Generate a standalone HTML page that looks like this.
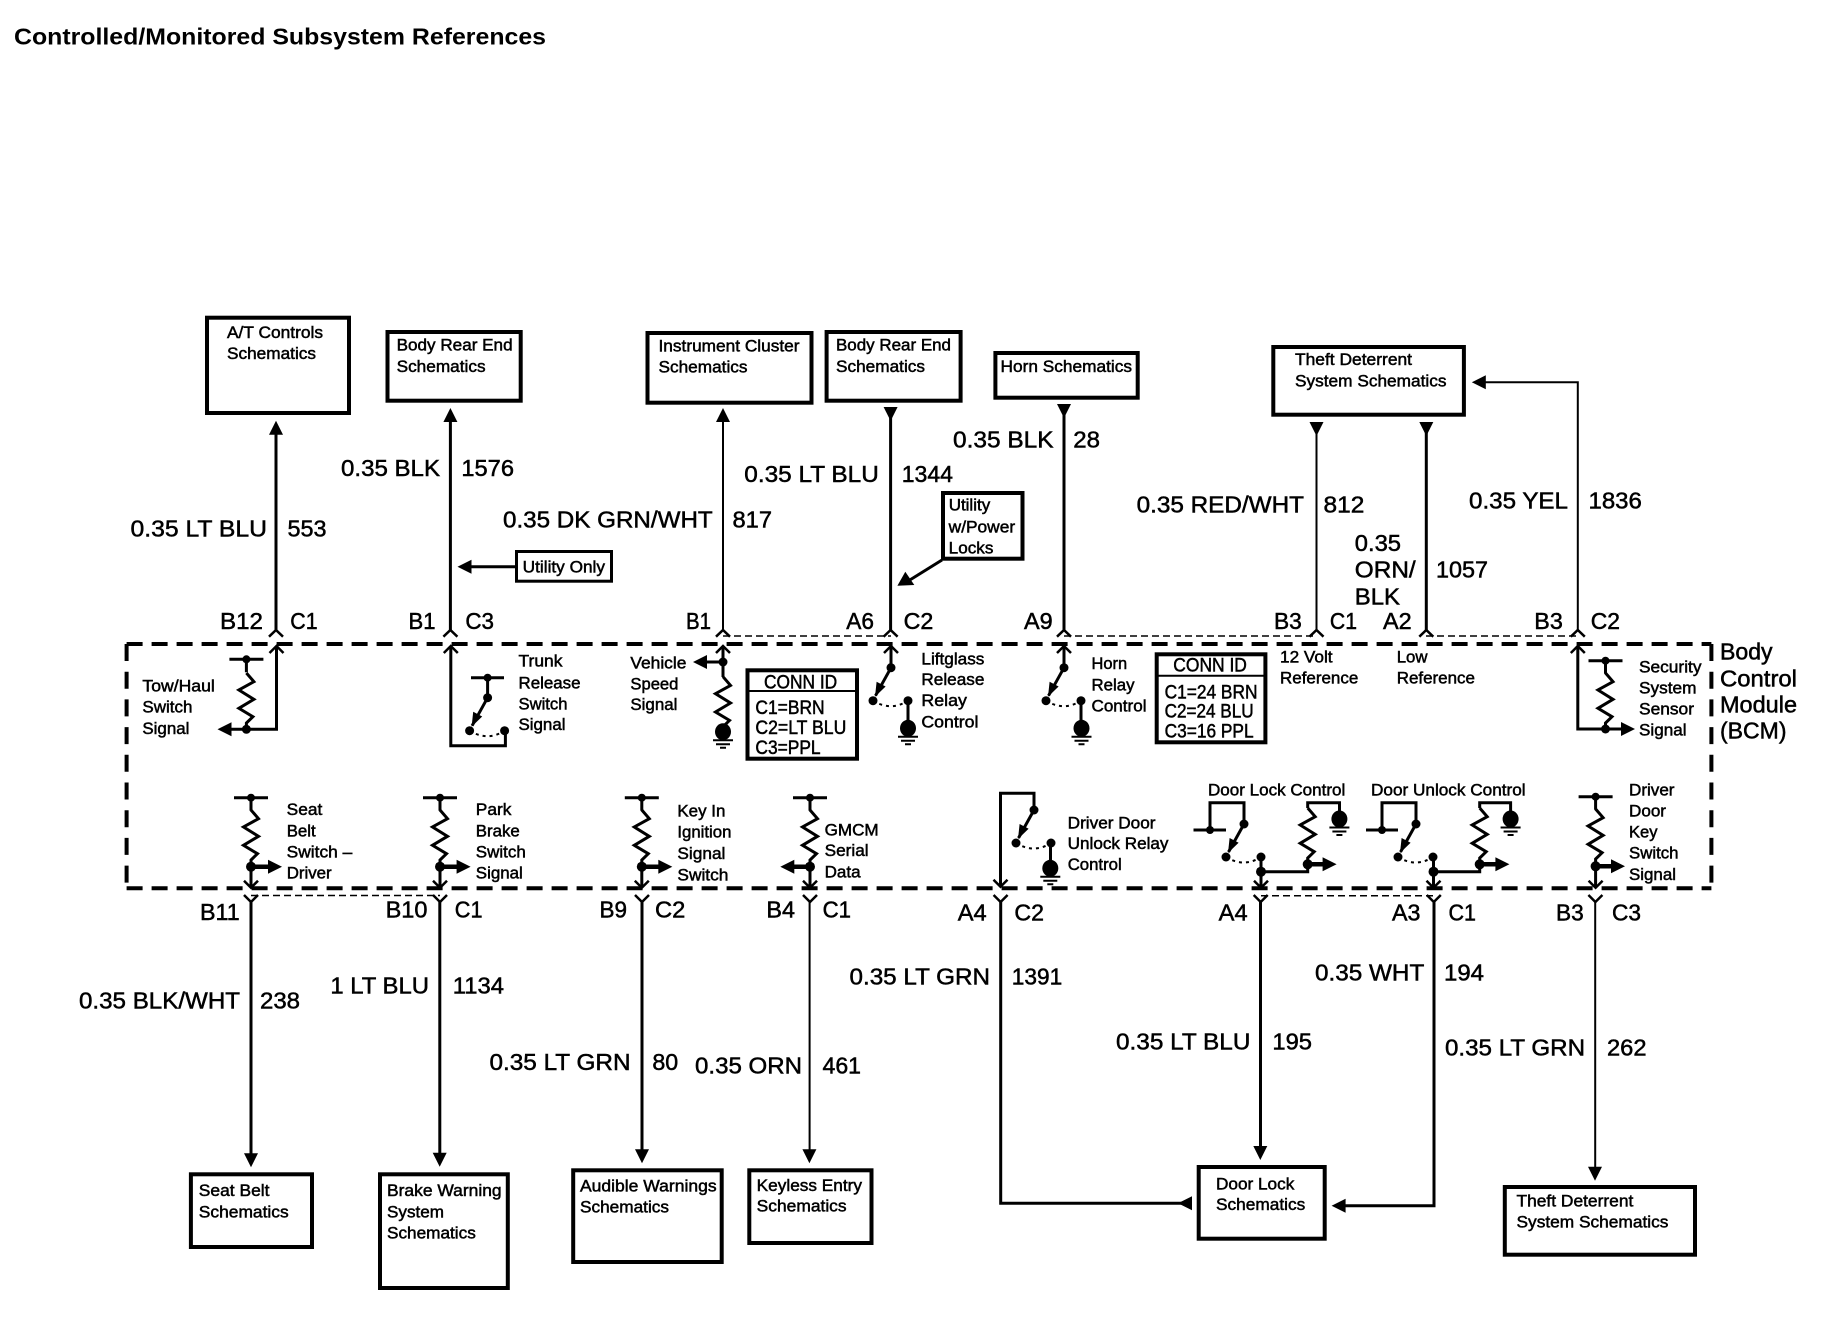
<!DOCTYPE html>
<html><head><meta charset="utf-8"><style>
html,body{margin:0;padding:0;background:#fff}
svg{display:block}
text{font-family:"Liberation Sans",sans-serif;fill:#000;stroke:#000;stroke-width:.5}
.s{font-size:17px}.m{font-size:19px}.l{font-size:23px}
.t{font-size:23px;font-weight:bold;stroke-width:0}
.b{fill:none;stroke:#000;stroke-width:4}
.w{fill:none;stroke:#000;stroke-width:3}
.n{fill:none;stroke:#000;stroke-width:2}
</style></head><body>
<svg width="1834" height="1328" viewBox="0 0 1834 1328" xmlns="http://www.w3.org/2000/svg">
<defs>
<polygon id="aU" points="0,0 7,14 -7,14"/>
<polygon id="aD" points="0,0 7,-14 -7,-14"/>
<polygon id="aL" points="0,0 14,-7 14,7"/>
<polygon id="aR" points="0,0 -14,-7 -14,7"/>
<path id="oU" d="M-7,7L0,0L7,7M0,0V8" fill="none" stroke="#000" stroke-width="2.5"/>
<path id="oD" d="M-7,-7L0,0L7,-7M0,0V-8" fill="none" stroke="#000" stroke-width="2.5"/>
<path id="fT" d="M-7,6.7L0,0L7,6.7" fill="none" stroke="#000" stroke-width="2.5"/>
<path id="fB" d="M-7,-7L0,0L7,-7" fill="none" stroke="#000" stroke-width="2.5"/>
<path id="r" d="M0,0L7.5,8.7L-7.5,17L7.5,26.3L-7.5,35.3L6.5,43.7L0,50V57" fill="none" stroke="#000" stroke-width="3"/>
<g id="bar"><path d="M-17,0H17M0,0V13" fill="none" stroke="#000" stroke-width="3"/><circle r="4"/></g>
<g id="gnd"><ellipse rx="8" ry="8.5"/><path d="M-10,8.5H10M-7,12.5H7M-3,16H3" fill="none" stroke="#000" stroke-width="2"/></g>
<g id="sw"><circle r="4.5"/><circle cx="-18" cy="33" r="4.5"/><circle cx="17" cy="33" r="4.5"/>
<path d="M0,0L-15.5,28" fill="none" stroke="#000" stroke-width="3"/><polygon points="-16,29 -5.4,18.8 -14.4,14"/>
<path d="M-18,33Q0,44 17,33" fill="none" stroke="#000" stroke-width="2" stroke-dasharray="3,4"/></g>
</defs>

<text class="t" x="14" y="44.3" textLength="532" lengthAdjust="spacingAndGlyphs">Controlled/Monitored Subsystem References</text>

<!-- module box -->
<path d="M126.6,644H1711.4" class="b" stroke-dasharray="16,9"/>
<path d="M126.6,888.3H1711.4" class="b" stroke-dasharray="16,9"/>
<path d="M126.6,644V888.3" class="b" stroke-dasharray="17,10.7"/>
<path d="M1711.4,644V888.3" class="b" stroke-dasharray="17,10.7"/>
<!-- thin dashes -->
<g fill="none" stroke="#000" stroke-width="1.5" stroke-dasharray="7,4">
<path d="M723,636H891M1064,636H1316M1426,636H1578"/>
<path d="M251,895.5H440M1261,895.7H1433"/>
</g>

<!-- top boxes -->
<rect class="b" x="207" y="317.7" width="142" height="95.3" stroke-width="4"/>
<text class="s" x="227" y="338" textLength="96" lengthAdjust="spacingAndGlyphs">A/T Controls</text>
<text class="s" x="227" y="359" textLength="89" lengthAdjust="spacingAndGlyphs">Schematics</text>
<rect class="b" x="387.5" y="332" width="133.2" height="68.7"/>
<text class="s" x="396.6" y="350.7" textLength="116" lengthAdjust="spacingAndGlyphs">Body Rear End</text>
<text class="s" x="396.6" y="372" textLength="89" lengthAdjust="spacingAndGlyphs">Schematics</text>
<rect class="b" x="647.5" y="333" width="164" height="69.7"/>
<text class="s" x="658.5" y="351.7" textLength="141" lengthAdjust="spacingAndGlyphs">Instrument Cluster</text>
<text class="s" x="658.5" y="372.7" textLength="89" lengthAdjust="spacingAndGlyphs">Schematics</text>
<rect class="b" x="826.6" y="332" width="134" height="68.7"/>
<text class="s" x="836" y="350.7" textLength="115" lengthAdjust="spacingAndGlyphs">Body Rear End</text>
<text class="s" x="836" y="372" textLength="89" lengthAdjust="spacingAndGlyphs">Schematics</text>
<rect class="b" x="995.4" y="353" width="142.3" height="44.7"/>
<text class="s" x="1000.5" y="372" textLength="131.5" lengthAdjust="spacingAndGlyphs">Horn Schematics</text>
<rect class="b" x="1273.3" y="347" width="190.6" height="67.7"/>
<text class="s" x="1295" y="365" textLength="117" lengthAdjust="spacingAndGlyphs">Theft Deterrent</text>
<text class="s" x="1295" y="386.7" textLength="151.5" lengthAdjust="spacingAndGlyphs">System Schematics</text>

<!-- top wires -->
<path class="w" d="M276,433V630"/><use href="#aU" x="276" y="420.7"/><use href="#fT" x="276" y="630"/>
<path class="w" d="M450.4,421V630"/><use href="#aU" x="450.4" y="408"/><use href="#fT" x="450.4" y="630"/>
<path class="n" d="M723,421V630"/><use href="#aU" x="723" y="408"/><use href="#fT" x="723" y="630"/>
<path class="w" d="M890.6,417V630" stroke-width="2.5"/><use href="#aD" x="890.6" y="421"/><use href="#fT" x="890.6" y="630"/>
<path class="w" d="M1064,415V630" stroke-width="2.5"/><use href="#aD" x="1064" y="418"/><use href="#fT" x="1064" y="630"/>
<path class="n" d="M1316.5,432V630"/><use href="#aD" x="1316.5" y="436"/><use href="#fT" x="1316.5" y="630"/>
<path class="w" d="M1426.3,432V630" stroke-width="2.5"/><use href="#aD" x="1426.3" y="436"/><use href="#fT" x="1426.3" y="630"/>
<path class="n" d="M1577.8,630V382.3H1484"/><use href="#aL" x="1471.8" y="382.3"/><use href="#fT" x="1577.8" y="630"/>

<text class="l" x="130.5" y="536.7" textLength="136.5" lengthAdjust="spacingAndGlyphs">0.35 LT BLU</text>
<text class="l" x="287.5" y="536.7" textLength="39" lengthAdjust="spacingAndGlyphs">553</text>
<text class="l" x="341" y="476" textLength="99" lengthAdjust="spacingAndGlyphs">0.35 BLK</text>
<text class="l" x="461.4" y="476" textLength="52.6" lengthAdjust="spacingAndGlyphs">1576</text>
<text class="l" x="503" y="527.7" textLength="209.7" lengthAdjust="spacingAndGlyphs">0.35 DK GRN/WHT</text>
<text class="l" x="732.5" y="527.7" textLength="39.5" lengthAdjust="spacingAndGlyphs">817</text>
<text class="l" x="744.3" y="482" textLength="134.5" lengthAdjust="spacingAndGlyphs">0.35 LT BLU</text>
<text class="l" x="901.7" y="482" textLength="51.3" lengthAdjust="spacingAndGlyphs">1344</text>
<text class="l" x="953" y="447.3" textLength="100.5" lengthAdjust="spacingAndGlyphs">0.35 BLK</text>
<text class="l" x="1073.3" y="447.3" textLength="26.7" lengthAdjust="spacingAndGlyphs">28</text>
<text class="l" x="1136.6" y="512.3" textLength="167.4" lengthAdjust="spacingAndGlyphs">0.35 RED/WHT</text>
<text class="l" x="1323.5" y="512.3" textLength="40.8" lengthAdjust="spacingAndGlyphs">812</text>
<text class="l" x="1354.8" y="551" textLength="46.2" lengthAdjust="spacingAndGlyphs">0.35</text>
<text class="l" x="1354.8" y="577.7" textLength="60.9" lengthAdjust="spacingAndGlyphs">ORN/</text>
<text class="l" x="1354.8" y="604.3" textLength="45.2" lengthAdjust="spacingAndGlyphs">BLK</text>
<text class="l" x="1436" y="577.7" textLength="52" lengthAdjust="spacingAndGlyphs">1057</text>
<text class="l" x="1469" y="508.3" textLength="99" lengthAdjust="spacingAndGlyphs">0.35 YEL</text>
<text class="l" x="1588.5" y="508.3" textLength="53.3" lengthAdjust="spacingAndGlyphs">1836</text>

<!-- utility callouts -->
<rect class="w" x="516.5" y="551.5" width="95" height="29.7"/>
<text class="s" x="522.7" y="572.7" textLength="82.3" lengthAdjust="spacingAndGlyphs">Utility Only</text>
<path class="w" d="M516,566.7H470"/><use href="#aL" x="457.5" y="566.7"/>
<rect class="b" x="943" y="493" width="79.5" height="65.7"/>
<text class="s" x="948.7" y="510.7" textLength="41.5" lengthAdjust="spacingAndGlyphs">Utility</text>
<text class="s" x="948.7" y="532.3" textLength="66.4" lengthAdjust="spacingAndGlyphs">w/Power</text>
<text class="s" x="948.7" y="553.3" textLength="44.7" lengthAdjust="spacingAndGlyphs">Locks</text>
<path class="w" d="M942,560L905,583"/><polygon points="897.4,585.7 914.3,585 905.3,571.7"/>

<!-- connector pin labels top -->
<text class="l" x="220" y="629" textLength="43" lengthAdjust="spacingAndGlyphs">B12</text>
<text class="l" x="290.3" y="629" textLength="27.3" lengthAdjust="spacingAndGlyphs">C1</text>
<text class="l" x="408.5" y="629" textLength="27" lengthAdjust="spacingAndGlyphs">B1</text>
<text class="l" x="465.4" y="629" textLength="28.6" lengthAdjust="spacingAndGlyphs">C3</text>
<text class="l" x="686" y="629" textLength="25" lengthAdjust="spacingAndGlyphs">B1</text>
<text class="l" x="846.3" y="629" textLength="27.7" lengthAdjust="spacingAndGlyphs">A6</text>
<text class="l" x="903.6" y="629" textLength="29.7" lengthAdjust="spacingAndGlyphs">C2</text>
<text class="l" x="1024" y="629" textLength="28.7" lengthAdjust="spacingAndGlyphs">A9</text>
<text class="l" x="1274" y="629" textLength="27.8" lengthAdjust="spacingAndGlyphs">B3</text>
<text class="l" x="1329.9" y="629" textLength="27.1" lengthAdjust="spacingAndGlyphs">C1</text>
<text class="l" x="1383" y="629" textLength="28.7" lengthAdjust="spacingAndGlyphs">A2</text>
<text class="l" x="1534.3" y="629" textLength="28.5" lengthAdjust="spacingAndGlyphs">B3</text>
<text class="l" x="1590.8" y="629" textLength="29.2" lengthAdjust="spacingAndGlyphs">C2</text>

<!-- Tow/Haul -->
<path class="w" d="M276.5,646V729.3H231"/><use href="#oU" x="276.5" y="646"/><use href="#aL" x="217.5" y="729.3"/>
<use href="#bar" x="246.4" y="659.3"/><use href="#r" x="246.4" y="673"/><circle cx="246.4" cy="729.3" r="4.5"/>
<text class="s" x="142.4" y="691.7" textLength="72.4" lengthAdjust="spacingAndGlyphs">Tow/Haul</text>
<text class="s" x="142.4" y="712.7" textLength="50" lengthAdjust="spacingAndGlyphs">Switch</text>
<text class="s" x="142.4" y="734" textLength="47" lengthAdjust="spacingAndGlyphs">Signal</text>

<!-- Trunk -->
<path class="w" d="M450.8,646V745.7H505.4V731"/><use href="#oU" x="450.8" y="646"/>
<path class="w" d="M471,677.7H504"/><path class="w" d="M487.6,677.7V697.7" stroke-width="3.5"/><circle cx="487.6" cy="677.7" r="4"/>
<use href="#sw" x="487.6" y="697.7"/>
<text class="s" x="518.5" y="666.7" textLength="44" lengthAdjust="spacingAndGlyphs">Trunk</text>
<text class="s" x="518.5" y="688.3" textLength="62" lengthAdjust="spacingAndGlyphs">Release</text>
<text class="s" x="518.5" y="709.3" textLength="49" lengthAdjust="spacingAndGlyphs">Switch</text>
<text class="s" x="518.5" y="730" textLength="47" lengthAdjust="spacingAndGlyphs">Signal</text>

<!-- Vehicle speed -->
<path class="w" d="M723,646V677" stroke-width="2.5"/><use href="#oU" x="723" y="646"/>
<circle cx="723" cy="662" r="4.5"/><path class="w" d="M723,662H705" stroke-width="4"/><use href="#aL" x="693" y="662"/>
<use href="#r" x="723" y="676.7"/><use href="#gnd" x="723" y="731.7"/>
<text class="s" x="630.4" y="668.3" textLength="56" lengthAdjust="spacingAndGlyphs">Vehicle</text>
<text class="s" x="630.4" y="689.3" textLength="48" lengthAdjust="spacingAndGlyphs">Speed</text>
<text class="s" x="630.4" y="710" textLength="47" lengthAdjust="spacingAndGlyphs">Signal</text>

<!-- CONN ID 1 -->
<rect class="b" x="747.5" y="670.3" width="109.5" height="88.4"/><path class="n" d="M747,691H857"/>
<text class="m" x="764" y="688.3" textLength="73.2" lengthAdjust="spacingAndGlyphs">CONN ID</text>
<text class="m" x="755.4" y="714" textLength="69.2" lengthAdjust="spacingAndGlyphs">C1=BRN</text>
<text class="m" x="755.4" y="734" textLength="90.9" lengthAdjust="spacingAndGlyphs">C2=LT BLU</text>
<text class="m" x="755.4" y="754" textLength="65.2" lengthAdjust="spacingAndGlyphs">C3=PPL</text>

<!-- Liftglass -->
<path class="w" d="M891,646V667.7M908,700V728"/><use href="#oU" x="891" y="646"/>
<use href="#sw" x="891" y="667.7"/><use href="#gnd" x="908" y="728.3"/>
<text class="s" x="921.4" y="664.3" textLength="63" lengthAdjust="spacingAndGlyphs">Liftglass</text>
<text class="s" x="921.4" y="685" textLength="63" lengthAdjust="spacingAndGlyphs">Release</text>
<text class="s" x="921.4" y="706" textLength="45.5" lengthAdjust="spacingAndGlyphs">Relay</text>
<text class="s" x="921.4" y="727.3" textLength="57" lengthAdjust="spacingAndGlyphs">Control</text>

<!-- Horn -->
<path class="w" d="M1064,646V667.7M1081,700V728"/><use href="#oU" x="1064" y="646"/>
<use href="#sw" x="1064" y="667.7"/><use href="#gnd" x="1081.5" y="728.3"/>
<text class="s" x="1091.5" y="669" textLength="35.6" lengthAdjust="spacingAndGlyphs">Horn</text>
<text class="s" x="1091.5" y="690.7" textLength="43" lengthAdjust="spacingAndGlyphs">Relay</text>
<text class="s" x="1091.5" y="711.7" textLength="55" lengthAdjust="spacingAndGlyphs">Control</text>

<!-- CONN ID 2 -->
<rect class="b" x="1156.7" y="654.3" width="108.7" height="88"/><path class="n" d="M1156,675.7H1266"/>
<text class="m" x="1173.3" y="671.7" textLength="73.6" lengthAdjust="spacingAndGlyphs">CONN ID</text>
<text class="m" x="1164.6" y="698.3" textLength="92.9" lengthAdjust="spacingAndGlyphs">C1=24 BRN</text>
<text class="m" x="1164.6" y="717.7" textLength="89" lengthAdjust="spacingAndGlyphs">C2=24 BLU</text>
<text class="m" x="1164.6" y="737.3" textLength="89" lengthAdjust="spacingAndGlyphs">C3=16 PPL</text>

<text class="s" x="1280" y="662.3" textLength="52.6" lengthAdjust="spacingAndGlyphs">12 Volt</text>
<text class="s" x="1280" y="683.3" textLength="78.3" lengthAdjust="spacingAndGlyphs">Reference</text>
<text class="s" x="1396.7" y="662.7" textLength="30.8" lengthAdjust="spacingAndGlyphs">Low</text>
<text class="s" x="1396.7" y="683.7" textLength="78.3" lengthAdjust="spacingAndGlyphs">Reference</text>

<!-- Security -->
<path class="w" d="M1577.8,646V729H1623"/><use href="#oU" x="1577.8" y="646"/><use href="#aR" x="1635" y="729"/>
<use href="#bar" x="1605.5" y="660.7"/><use href="#r" x="1605.5" y="673"/><circle cx="1605.5" cy="729" r="4.5"/>
<text class="s" x="1639" y="672.7" textLength="62.5" lengthAdjust="spacingAndGlyphs">Security</text>
<text class="s" x="1639" y="693.3" textLength="57.5" lengthAdjust="spacingAndGlyphs">System</text>
<text class="s" x="1639" y="714.7" textLength="55" lengthAdjust="spacingAndGlyphs">Sensor</text>
<text class="s" x="1639" y="735.7" textLength="47.5" lengthAdjust="spacingAndGlyphs">Signal</text>

<text class="l" x="1720" y="659.3" textLength="52.6" lengthAdjust="spacingAndGlyphs">Body</text>
<text class="l" x="1720" y="686.7" textLength="77" lengthAdjust="spacingAndGlyphs">Control</text>
<text class="l" x="1720" y="712.7" textLength="77" lengthAdjust="spacingAndGlyphs">Module</text>
<text class="l" x="1720" y="738.3" textLength="66.5" lengthAdjust="spacingAndGlyphs">(BCM)</text>

<!-- lower row resistors -->
<use href="#bar" x="251" y="797.7"/><use href="#r" x="251" y="810"/><circle cx="251" cy="866.7" r="5"/>
<path class="w" d="M251,866.7V887" stroke-width="2.5"/><path d="M251,866.7H270" stroke="#000" stroke-width="4.5"/><use href="#oD" x="251" y="887.7"/><use href="#aR" x="282" y="866.7"/>
<text class="s" x="286.7" y="815" textLength="35.6" lengthAdjust="spacingAndGlyphs">Seat</text>
<text class="s" x="286.7" y="836.7" textLength="29" lengthAdjust="spacingAndGlyphs">Belt</text>
<text class="s" x="286.7" y="857.7" textLength="65.6" lengthAdjust="spacingAndGlyphs">Switch –</text>
<text class="s" x="286.7" y="878.3" textLength="45" lengthAdjust="spacingAndGlyphs">Driver</text>

<use href="#bar" x="440" y="797.7"/><use href="#r" x="440" y="810"/><circle cx="440" cy="866.7" r="5"/>
<path class="w" d="M440,866.7V887" stroke-width="2.5"/><path d="M440,866.7H459" stroke="#000" stroke-width="4.5"/><use href="#oD" x="440" y="887.7"/><use href="#aR" x="470.6" y="866.7"/>
<text class="s" x="475.8" y="815" textLength="35.6" lengthAdjust="spacingAndGlyphs">Park</text>
<text class="s" x="475.8" y="836.7" textLength="44" lengthAdjust="spacingAndGlyphs">Brake</text>
<text class="s" x="475.8" y="857.7" textLength="50" lengthAdjust="spacingAndGlyphs">Switch</text>
<text class="s" x="475.8" y="878.3" textLength="47" lengthAdjust="spacingAndGlyphs">Signal</text>

<use href="#bar" x="641.8" y="797.7"/><use href="#r" x="641.8" y="810"/><circle cx="641.8" cy="866.7" r="5"/>
<path class="w" d="M641.8,866.7V887" stroke-width="2.5"/><path d="M641.8,866.7H660" stroke="#000" stroke-width="4.5"/><use href="#oD" x="641.8" y="887.7"/><use href="#aR" x="672.3" y="866.7"/>
<text class="s" x="677.4" y="816.7" textLength="48" lengthAdjust="spacingAndGlyphs">Key In</text>
<text class="s" x="677.4" y="837.7" textLength="54" lengthAdjust="spacingAndGlyphs">Ignition</text>
<text class="s" x="677.4" y="859" textLength="48" lengthAdjust="spacingAndGlyphs">Signal</text>
<text class="s" x="677.4" y="880.7" textLength="51" lengthAdjust="spacingAndGlyphs">Switch</text>

<use href="#bar" x="810" y="797.7"/><use href="#r" x="810" y="810"/><circle cx="810" cy="866.7" r="5"/>
<path class="w" d="M810,866.7V887" stroke-width="2.5"/><path d="M810,866.7H792" stroke="#000" stroke-width="4.5"/><use href="#oD" x="810" y="887.7"/><use href="#aL" x="780.3" y="866.7"/>
<text class="s" x="824.6" y="835.3" textLength="54" lengthAdjust="spacingAndGlyphs">GMCM</text>
<text class="s" x="824.6" y="856" textLength="44" lengthAdjust="spacingAndGlyphs">Serial</text>
<text class="s" x="824.6" y="877.7" textLength="36" lengthAdjust="spacingAndGlyphs">Data</text>

<!-- Driver door unlock -->
<path class="w" d="M1034,810V793.3H1000.5V886"/><use href="#oD" x="1000.5" y="886.7"/>
<use href="#sw" x="1034" y="810"/><path class="w" d="M1050.5,843V868"/><use href="#gnd" x="1050.3" y="868.3"/>
<text class="s" x="1067.7" y="828.3" textLength="87.8" lengthAdjust="spacingAndGlyphs">Driver Door</text>
<text class="s" x="1067.7" y="849" textLength="100.8" lengthAdjust="spacingAndGlyphs">Unlock Relay</text>
<text class="s" x="1067.7" y="870" textLength="54" lengthAdjust="spacingAndGlyphs">Control</text>

<!-- Door lock control -->
<text class="s" x="1208" y="795.7" textLength="137.3" lengthAdjust="spacingAndGlyphs">Door Lock Control</text>
<path class="w" d="M1193.5,830H1226"/><circle cx="1210" cy="830" r="4"/>
<path class="w" d="M1210,830V802.7H1244V824" stroke-width="3.5"/><use href="#sw" x="1244" y="824"/>
<path class="w" d="M1261,857V887M1261,871.7H1307.7V864"/><circle cx="1261" cy="871.7" r="5"/><use href="#oD" x="1261" y="887.7"/>
<path d="M1307.7,864.3H1325" stroke="#000" stroke-width="4.5"/><use href="#aR" x="1336.6" y="864.3"/><circle cx="1307.7" cy="864.3" r="5"/>
<use href="#r" x="1307.7" y="808"/><path class="w" d="M1307.7,808V802.7H1339.5V812"/><use href="#gnd" x="1339.4" y="819"/>

<!-- Door unlock control -->
<text class="s" x="1371" y="795.7" textLength="154.6" lengthAdjust="spacingAndGlyphs">Door Unlock Control</text>
<path class="w" d="M1366,830H1398"/><circle cx="1382" cy="830" r="4"/>
<path class="w" d="M1382,830V802.7H1416V824" stroke-width="3.5"/><use href="#sw" x="1416" y="824"/>
<path class="w" d="M1433.5,857V887M1433.5,871.7H1479.7V864"/><circle cx="1433.5" cy="871.7" r="5"/><use href="#oD" x="1433.5" y="887.7"/>
<path d="M1479.7,864.3H1497" stroke="#000" stroke-width="4.5"/><use href="#aR" x="1509.4" y="864.3"/><circle cx="1479.7" cy="864.3" r="5"/>
<use href="#r" x="1479.7" y="808"/><path class="w" d="M1479.7,808V802.7H1510.6V812"/><use href="#gnd" x="1510.6" y="819"/>

<!-- Driver door key -->
<use href="#bar" x="1595.6" y="796.7"/><use href="#r" x="1595.6" y="809"/><circle cx="1595.6" cy="866.3" r="5"/>
<path class="w" d="M1595.6,866.3V887" stroke-width="2.5"/><path d="M1595.6,866.3H1613" stroke="#000" stroke-width="4.5"/><use href="#oD" x="1595.6" y="887.7"/><use href="#aR" x="1625" y="866.3"/>
<text class="s" x="1629" y="795.7" textLength="45.5" lengthAdjust="spacingAndGlyphs">Driver</text>
<text class="s" x="1629" y="816.7" textLength="37" lengthAdjust="spacingAndGlyphs">Door</text>
<text class="s" x="1629" y="837.3" textLength="28.5" lengthAdjust="spacingAndGlyphs">Key</text>
<text class="s" x="1629" y="858.7" textLength="49.5" lengthAdjust="spacingAndGlyphs">Switch</text>
<text class="s" x="1629" y="880" textLength="47" lengthAdjust="spacingAndGlyphs">Signal</text>

<!-- lower connector labels -->
<text class="l" x="200" y="920" textLength="39.7" lengthAdjust="spacingAndGlyphs">B11</text>
<text class="l" x="385.6" y="917.7" textLength="41.9" lengthAdjust="spacingAndGlyphs">B10</text>
<text class="l" x="454.8" y="917.7" textLength="27.7" lengthAdjust="spacingAndGlyphs">C1</text>
<text class="l" x="599.5" y="917.7" textLength="27.5" lengthAdjust="spacingAndGlyphs">B9</text>
<text class="l" x="655" y="917.7" textLength="30.3" lengthAdjust="spacingAndGlyphs">C2</text>
<text class="l" x="766.4" y="917.7" textLength="28.6" lengthAdjust="spacingAndGlyphs">B4</text>
<text class="l" x="822.6" y="917.7" textLength="28.4" lengthAdjust="spacingAndGlyphs">C1</text>
<text class="l" x="957.8" y="920.7" textLength="28.9" lengthAdjust="spacingAndGlyphs">A4</text>
<text class="l" x="1014.4" y="920.7" textLength="29.6" lengthAdjust="spacingAndGlyphs">C2</text>
<text class="l" x="1218.7" y="920.7" textLength="28.9" lengthAdjust="spacingAndGlyphs">A4</text>
<text class="l" x="1392" y="920.7" textLength="28.4" lengthAdjust="spacingAndGlyphs">A3</text>
<text class="l" x="1448.5" y="920.7" textLength="27.5" lengthAdjust="spacingAndGlyphs">C1</text>
<text class="l" x="1556" y="920.7" textLength="27.7" lengthAdjust="spacingAndGlyphs">B3</text>
<text class="l" x="1612" y="920.7" textLength="29" lengthAdjust="spacingAndGlyphs">C3</text>

<!-- lower wires -->
<use href="#fB" x="251" y="902"/><path class="w" d="M251,902V1155"/><use href="#aD" x="251" y="1167.3"/>
<use href="#fB" x="440" y="902"/><path class="w" d="M439.8,902V1155" stroke-width="2.5"/><use href="#aD" x="439.7" y="1166.7"/>
<use href="#fB" x="642" y="902"/><path class="w" d="M642,902V1151"/><use href="#aD" x="642" y="1163.3"/>
<use href="#fB" x="810" y="902"/><path class="n" d="M809.6,902V1151"/><use href="#aD" x="809.4" y="1163.3"/>
<use href="#fB" x="1000.6" y="902"/><path class="w" d="M1000.7,902V1203.3H1182" stroke-width="2.5"/><use href="#aL" x="1178" y="1203.3"/>
<use href="#fB" x="1260.7" y="902"/><path class="w" d="M1260.5,902V1148" stroke-width="2.5"/><use href="#aD" x="1260.3" y="1160"/>
<use href="#fB" x="1433.8" y="902"/><path class="w" d="M1434,902V1205.7H1344" stroke-width="2.5"/><use href="#aL" x="1331.6" y="1205.7"/>
<use href="#fB" x="1595.4" y="902"/><path class="n" d="M1595.2,902V1170"/><use href="#aD" x="1595" y="1180.7"/>

<!-- lower wire labels -->
<text class="l" x="79" y="1008.3" textLength="161" lengthAdjust="spacingAndGlyphs">0.35 BLK/WHT</text>
<text class="l" x="260" y="1008.3" textLength="40" lengthAdjust="spacingAndGlyphs">238</text>
<text class="l" x="330.4" y="993.3" textLength="98.6" lengthAdjust="spacingAndGlyphs">1 LT BLU</text>
<text class="l" x="452.8" y="993.3" textLength="51.2" lengthAdjust="spacingAndGlyphs">1134</text>
<text class="l" x="489.5" y="1070" textLength="141" lengthAdjust="spacingAndGlyphs">0.35 LT GRN</text>
<text class="l" x="652.4" y="1070" textLength="25.8" lengthAdjust="spacingAndGlyphs">80</text>
<text class="l" x="695" y="1073.3" textLength="107" lengthAdjust="spacingAndGlyphs">0.35 ORN</text>
<text class="l" x="822.5" y="1073.3" textLength="38.5" lengthAdjust="spacingAndGlyphs">461</text>
<text class="l" x="849.5" y="984.3" textLength="140.5" lengthAdjust="spacingAndGlyphs">0.35 LT GRN</text>
<text class="l" x="1011.8" y="984.3" textLength="50.5" lengthAdjust="spacingAndGlyphs">1391</text>
<text class="l" x="1116" y="1049.3" textLength="134.4" lengthAdjust="spacingAndGlyphs">0.35 LT BLU</text>
<text class="l" x="1272.4" y="1049.3" textLength="39.6" lengthAdjust="spacingAndGlyphs">195</text>
<text class="l" x="1315" y="980.7" textLength="109.3" lengthAdjust="spacingAndGlyphs">0.35 WHT</text>
<text class="l" x="1444" y="980.7" textLength="40" lengthAdjust="spacingAndGlyphs">194</text>
<text class="l" x="1445" y="1055.7" textLength="140" lengthAdjust="spacingAndGlyphs">0.35 LT GRN</text>
<text class="l" x="1607" y="1055.7" textLength="39.5" lengthAdjust="spacingAndGlyphs">262</text>

<!-- bottom boxes -->
<rect class="b" x="190.9" y="1174.3" width="121.1" height="72.7"/>
<text class="s" x="198.8" y="1196" textLength="70.7" lengthAdjust="spacingAndGlyphs">Seat Belt</text>
<text class="s" x="198.8" y="1217.3" textLength="89.9" lengthAdjust="spacingAndGlyphs">Schematics</text>
<rect class="b" x="380" y="1174.3" width="127.8" height="113.7"/>
<text class="s" x="387" y="1196" textLength="114.6" lengthAdjust="spacingAndGlyphs">Brake Warning</text>
<text class="s" x="387" y="1217.3" textLength="57" lengthAdjust="spacingAndGlyphs">System</text>
<text class="s" x="387" y="1238.3" textLength="88.8" lengthAdjust="spacingAndGlyphs">Schematics</text>
<rect class="b" x="573.2" y="1170.3" width="148.5" height="91.7"/>
<text class="s" x="580" y="1191.7" textLength="136.6" lengthAdjust="spacingAndGlyphs">Audible Warnings</text>
<text class="s" x="580" y="1212.7" textLength="89" lengthAdjust="spacingAndGlyphs">Schematics</text>
<rect class="b" x="749.3" y="1170.3" width="122.2" height="72.7"/>
<text class="s" x="756.7" y="1191" textLength="105.3" lengthAdjust="spacingAndGlyphs">Keyless Entry</text>
<text class="s" x="756.7" y="1211.7" textLength="89.9" lengthAdjust="spacingAndGlyphs">Schematics</text>
<rect class="b" x="1198.7" y="1167" width="126" height="71.7"/>
<text class="s" x="1216" y="1189.3" textLength="78.3" lengthAdjust="spacingAndGlyphs">Door Lock</text>
<text class="s" x="1216" y="1210" textLength="89.3" lengthAdjust="spacingAndGlyphs">Schematics</text>
<rect class="b" x="1504.8" y="1187" width="190.2" height="67.7"/>
<text class="s" x="1516.5" y="1206.7" textLength="116.8" lengthAdjust="spacingAndGlyphs">Theft Deterrent</text>
<text class="s" x="1516.5" y="1227.3" textLength="151.9" lengthAdjust="spacingAndGlyphs">System Schematics</text>
</svg>
</body></html>
